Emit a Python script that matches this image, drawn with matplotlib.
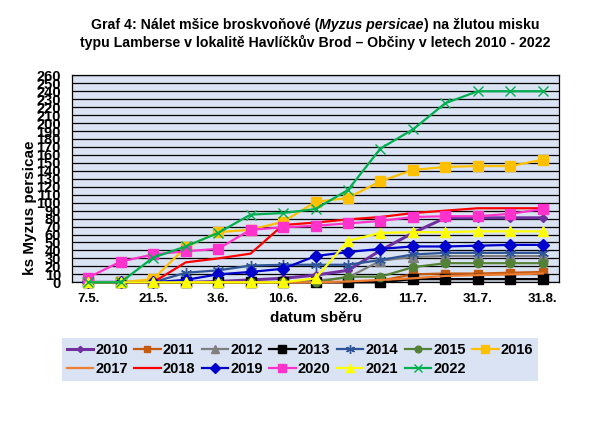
import matplotlib
matplotlib.use('Agg')
import matplotlib.pyplot as plt

FONT = ['Liberation Sans', 'DejaVu Sans']
plt.rcParams['font.family'] = FONT

dates = ['7.5.', '14.5.', '21.5.', '28.5.', '3.6.', '7.6.', '10.6.', '16.6.',
         '22.6.', '1.7.', '11.7.', '21.7.', '31.7.', '14.8.', '31.8.']

y2010 = [0, 0, 0, 0, 1, 3, 5, 9, 15, 40, 62, 81, 81, 81, 81]
y2011 = [0, 0, 0, 0, 0, 0, 0, 0, 0, 2, 10, 11, 11, 12, 13]
y2012 = [0, 0, 0, 0, 0, 0, 0, 2, 6, 27, 32, 33, 33, 33, 33]
y2013 = [0, 0, 0, 0, 0, 0, 0, 0, 0, 0, 4, 4, 4, 4, 4]
y2014 = [0, 0, 0, 12, 15, 21, 22, 22, 22, 28, 35, 37, 37, 37, 37]
y2015 = [0, 0, 0, 0, 0, 0, 0, 0, 7, 7, 19, 24, 24, 24, 24]
y2016 = [0, 0, 4, 44, 63, 66, 76, 101, 106, 127, 141, 145, 146, 146, 154]
y2017 = [0, 0, 0, 0, 0, 0, 0, 0, 1, 3, 5, 8, 9, 10, 11]
y2018 = [0, 0, 0, 25, 30, 36, 72, 75, 79, 82, 87, 90, 93, 93, 93]
y2019 = [0, 0, 0, 3, 10, 13, 17, 33, 38, 42, 45, 45, 46, 47, 47]
y2020 = [6, 26, 35, 39, 42, 66, 69, 71, 74, 77, 82, 83, 83, 86, 92]
y2021 = [0, 0, 0, 0, 0, 0, 0, 5, 52, 62, 63, 63, 64, 64, 64]
y2022 = [0, 0, 31, 45, 62, 85, 87, 92, 116, 168, 192, 225, 240, 240, 240]

years = ['2010', '2011', '2012', '2013', '2014', '2015', '2016',
         '2017', '2018', '2019', '2020', '2021', '2022']
values = [y2010, y2011, y2012, y2013, y2014, y2015, y2016,
          y2017, y2018, y2019, y2020, y2021, y2022]

styles = {
    '2010': dict(color='#7030A0', marker='D', ms=4, lw=2.2),
    '2011': dict(color='#C55A11', marker='s', ms=6, lw=1.6),
    '2012': dict(color='#7F7F7F', marker='^', ms=6.5, lw=1.6),
    '2013': dict(color='#000000', marker='s', ms=6.5, lw=1.6),
    '2014': dict(color='#2F5597', marker=(6, 2, 0), ms=8, lw=1.6, mew=1.0),
    '2015': dict(color='#538135', marker='o', ms=6, lw=1.6),
    '2016': dict(color='#FFC000', marker='s', ms=7, lw=1.6),
    '2017': dict(color='#ED7D31', marker='None', ms=0, lw=1.6),
    '2018': dict(color='#FF0000', marker='None', ms=0, lw=1.6),
    '2019': dict(color='#0000CC', marker='D', ms=6, lw=1.6),
    '2020': dict(color='#FF33CC', marker='s', ms=7, lw=1.6),
    '2021': dict(color='#FFFF00', marker='^', ms=7.5, lw=1.6),
    '2022': dict(color='#00B050', marker='x', ms=7, lw=1.6, mew=1.0),
}

W, H = 611, 423
fig = plt.figure(figsize=(W / 100, H / 100), dpi=100)
ax = fig.add_axes([72 / W, 1 - 282.3 / H, 487 / W, 207 / H])
ax.set_facecolor('#DAE3F3')

x = list(range(len(dates)))
handles = {}
for yr, vals in zip(years, values):
    st = styles[yr]
    ln, = ax.plot(x, vals, color=st['color'], lw=st['lw'], marker=st['marker'],
                  ms=st['ms'], mew=st.get('mew', 1.0), mfc=st['color'], mec=st['color'],
                  label=yr, clip_on=False, zorder=3)
    handles[yr] = ln

ax.set_xlim(-0.5, len(dates) - 0.5)
ax.set_ylim(0, 260)
ax.set_yticks(range(0, 261, 10))
ax.yaxis.grid(True, color='black', lw=0.9)
ax.set_axisbelow(True)
for sp in ax.spines.values():
    sp.set_color('black')
    sp.set_linewidth(0.9)

ax.set_xticks(x[::2])
ax.set_xticklabels(dates[::2])
ax.tick_params(axis='x', length=0, pad=8, labelsize=9.5)
ax.tick_params(axis='y', length=0, pad=8, labelsize=10.5)
for lab in ax.get_xticklabels() + ax.get_yticklabels():
    lab.set_fontweight('bold')

ax.set_xlabel('datum sběru', fontsize=11, fontweight='bold')
ax.xaxis.set_label_coords((316 - 72) / 487, (282.3 - 311) / 207)
ax.set_ylabel('ks Myzus persicae', fontsize=11, fontweight='bold')
ax.yaxis.set_label_coords((37 - 72) / 487, (282.3 - 208) / 207)

# legend (row-major order via column-major interleave)
order = ['2010', '2017', '2011', '2018', '2012', '2019', '2013', '2020',
         '2014', '2021', '2015', '2022', '2016']
hl = [handles[o] for o in order]
leg = fig.legend(hl, order, ncol=7, loc='center',
                 bbox_to_anchor=(300 / W, 1 - 359.7 / H),
                 prop=dict(family=FONT, weight='bold', size=10.5),
                 handlelength=1.8, handletextpad=0.15, columnspacing=0.45,
                 labelspacing=0.35, borderpad=0.35, frameon=True, fancybox=False,
                 facecolor='#DAE3F3', edgecolor='none', framealpha=1, markerscale=0.8)

# title with italic part
renderer = fig.canvas.get_renderer()
def mixed_line(parts, cx, cy, size):
    ts = []
    for s, style in parts:
        t = fig.text(0, 1 - cy / H, s, fontsize=size, fontweight='bold',
                     fontstyle=style, family=FONT, va='center', ha='left')
        ts.append(t)
    widths = [t.get_window_extent(renderer).width for t in ts]
    total = sum(widths)
    xpos = cx - total / 2
    for t, w in zip(ts, widths):
        t.set_x(xpos / W)
        xpos += w

mixed_line([('Graf 4: Nálet mšice broskvoňové (', 'normal'),
            ('Myzus persicae', 'italic'),
            (') na žlutou misku', 'normal')], 315, 25, 10.2)
mixed_line([('typu Lamberse v lokalitě Havlíčkův Brod – Občiny v letech 2010 - 2022', 'normal')],
           315, 42, 10.2)

fig.savefig('out.png', dpi=100)
